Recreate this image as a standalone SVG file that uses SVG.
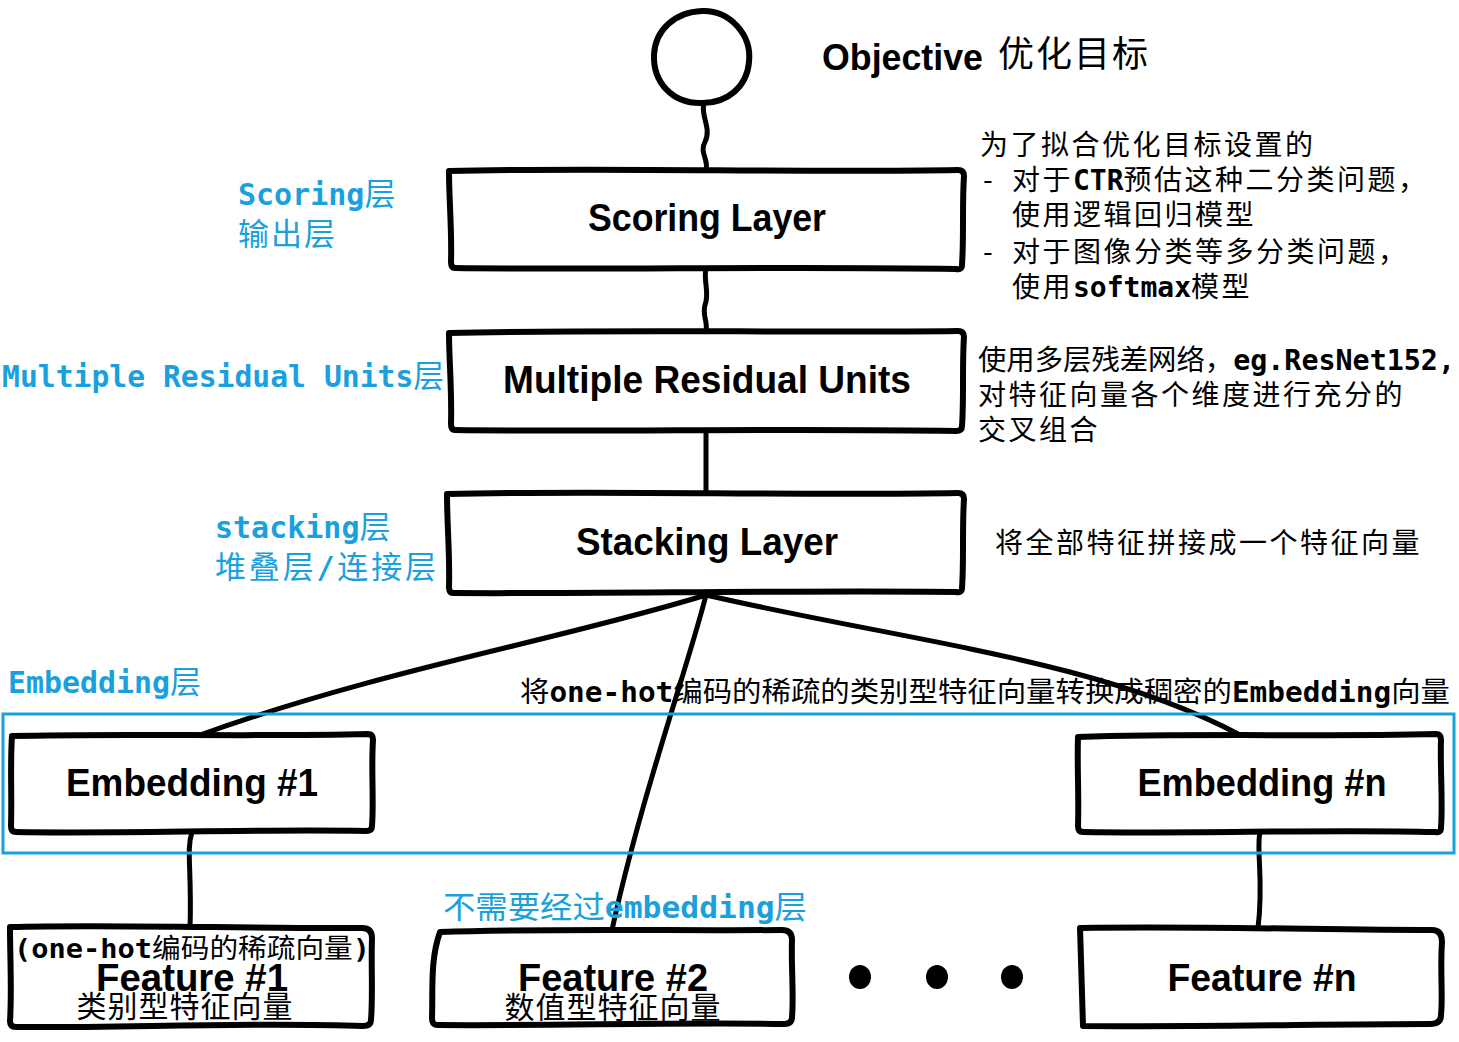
<svg xmlns="http://www.w3.org/2000/svg" width="1459" height="1042" viewBox="0 0 1459 1042">
<style>
.box{fill:#fff;stroke:#000;stroke-width:6;stroke-linejoin:round;stroke-linecap:round}
.edge{fill:none;stroke:#000;stroke-width:5;stroke-linecap:round}
.lbl{font-family:"Liberation Sans",Arial,sans-serif;font-weight:bold;fill:#000;text-anchor:middle}
.blue{font-family:"DejaVu Sans Mono","Noto Sans CJK SC",monospace;font-weight:bold;fill:#1aa0dc;font-size:30px}
.bluecjk{font-family:"Noto Sans CJK SC",sans-serif;font-weight:normal;fill:#1aa0dc;font-size:31px}
.desc{font-family:"Noto Sans CJK SC",sans-serif;fill:#000;font-size:28px}
.mono{font-family:"DejaVu Sans Mono",monospace;font-weight:bold}
</style>
<rect width="1459" height="1042" fill="#fff"/>
<g id="connectors">
<path class="edge" d="M704,103 C700,115 712,128 705,142 C699,152 709,160 706,170"/>
<path class="edge" d="M706,268 C703,282 710,292 705,305 C702,315 708,322 706,330"/>
<path class="edge" d="M706,430 L706,493"/>
<path class="edge" d="M706,595 C560,640 380,670 200,735"/>
<path class="edge" d="M706,595 C690,660 640,800 612,930"/>
<path class="edge" d="M706,595 C900,640 1100,660 1240,735"/>
<path class="edge" d="M192,832 C186,850 192,870 190,928"/>
<path class="edge" d="M1260,832 C1256,850 1264,880 1258,928"/>
</g>
<g id="objective">
<path d="M702,11 C730,10 752,35 749,62 C747,86 728,104 700,103 C672,103 653,82 654,55 C655,30 675,12 702,11 Z" fill="#fff" stroke="#000" stroke-width="6"/>
<text x="822" y="70" font-family="Liberation Sans,Arial,sans-serif" font-weight="bold" font-size="36" textLength="161" lengthAdjust="spacingAndGlyphs">Objective</text>
<text x="998" y="67" font-family="Noto Sans CJK SC,sans-serif" font-size="36" letter-spacing="2">优化目标</text>
</g>
<g id="scoring">
<path class="box" d="M449,171 C600,167 800,173 958,170 Q964,170 964,176 C962,205 964,235 962,265 Q962,270 956,269 C800,266 600,270 455,268 Q451,268 451,262 C452,230 449,200 449,171 Z"/>
<text class="lbl" x="707" y="231" font-size="38" textLength="238" lengthAdjust="spacingAndGlyphs">Scoring Layer</text>
<text class="blue" x="238" y="205">Scoring<tspan class="bluecjk" font-size="32">层</tspan></text>
<text class="bluecjk" x="238" y="245" letter-spacing="2">输出层</text>
<text class="desc" x="980" y="155" letter-spacing="2.5">为了拟合优化目标设置的</text>
<text class="desc" x="983" y="190" letter-spacing="2.5">-<tspan x="1012">对于</tspan><tspan class="mono" letter-spacing="0">CTR</tspan>预估这种二分类问题，</text>
<text class="desc" x="1012" y="225" letter-spacing="2.5">使用逻辑回归模型</text>
<text class="desc" x="983" y="262" letter-spacing="2.5">-<tspan x="1012">对于图像分类等多分类问题，</tspan></text>
<text class="desc" x="1012" y="297" letter-spacing="2.5">使用<tspan class="mono" letter-spacing="0">softmax</tspan>模型</text>
</g>
<g id="mru">
<path class="box" d="M449,333 C600,329 800,333 958,331 Q964,331 964,337 C962,365 964,400 962,426 Q962,431 956,431 C800,428 600,432 455,430 Q451,430 451,424 C452,390 449,360 449,333 Z"/>
<text class="lbl" x="707" y="393" font-size="38" textLength="408" lengthAdjust="spacingAndGlyphs">Multiple Residual Units</text>
<text class="blue" x="2" y="387" textLength="442" lengthAdjust="spacingAndGlyphs">Multiple Residual Units<tspan class="bluecjk" font-size="32">层</tspan></text>
<text class="desc" x="978" y="370" textLength="477" lengthAdjust="spacingAndGlyphs">使用多层残差网络，<tspan class="mono">eg.ResNet152,</tspan></text>
<text class="desc" x="978" y="405" letter-spacing="2.5">对特征向量各个维度进行充分的</text>
<text class="desc" x="978" y="440" letter-spacing="2.5">交叉组合</text>
</g>
<g id="stacking">
<path class="box" d="M447,494 C600,490 800,496 958,493 Q964,493 964,499 C962,530 964,560 962,588 Q962,593 956,592 C800,590 600,594 453,593 Q449,593 449,587 C450,555 447,525 447,494 Z"/>
<text class="lbl" x="707" y="555" font-size="38" textLength="262" lengthAdjust="spacingAndGlyphs">Stacking Layer</text>
<text class="blue" x="215" y="538">stacking<tspan class="bluecjk" font-size="32">层</tspan></text>
<text class="bluecjk" x="215" y="578" textLength="221" lengthAdjust="spacing">堆叠层<tspan class="blue">/</tspan>连接层</text>
<text class="desc" x="995" y="553" letter-spacing="2.5">将全部特征拼接成一个特征向量</text>
</g>
<g id="embedding-layer">
<rect x="3" y="714" width="1451" height="139" fill="none" stroke="#1aa0dc" stroke-width="3"/>
<text class="blue" x="8" y="693" textLength="162" lengthAdjust="spacingAndGlyphs">Embedding</text>
<text class="bluecjk" x="170" y="693">层</text>
<text class="desc" x="520" y="702" textLength="930" lengthAdjust="spacingAndGlyphs">将<tspan class="mono">one-hot</tspan>编码的稀疏的类别型特征向量转换成稠密的<tspan class="mono">Embedding</tspan>向量</text>
</g>
<g id="embedding1">
<path class="box" d="M12,736 C120,733 250,737 368,734 Q373,734 373,740 C371,770 374,800 372,826 Q372,831 366,831 C250,829 120,834 16,832 Q11,832 11,826 C12,795 10,765 12,736 Z"/>
<text class="lbl" x="192" y="796" font-size="38" textLength="252" lengthAdjust="spacingAndGlyphs">Embedding #1</text>
</g>
<g id="embeddingn">
<path class="box" d="M1078,737 C1200,733 1320,737 1436,734 Q1441,734 1441,740 C1440,770 1443,800 1441,828 Q1441,833 1435,832 C1320,829 1200,834 1083,832 Q1078,832 1078,826 C1079,795 1077,765 1078,737 Z"/>
<text class="lbl" x="1262" y="796" font-size="38" textLength="249" lengthAdjust="spacingAndGlyphs">Embedding #n</text>
</g>
<g id="feature1">
<path class="box" d="M10,927 C120,924 250,929 362,928 Q372,928 372,938 C371,965 373,995 371,1020 Q371,1026 363,1026 C250,1022 120,1028 16,1027 Q10,1027 10,1021 C12,990 10,960 10,927 Z"/>
<text x="14" y="958" font-family="DejaVu Sans Mono,Noto Sans CJK SC,monospace" font-weight="bold" font-size="27" textLength="356" lengthAdjust="spacingAndGlyphs">(one-hot<tspan font-family="Noto Sans CJK SC,sans-serif" font-weight="normal">编码的稀疏向量</tspan>)</text>
<text class="lbl" x="192" y="991" font-size="38" textLength="192" lengthAdjust="spacingAndGlyphs">Feature #1</text>
<text x="185" y="1017" font-family="Noto Sans CJK SC,sans-serif" font-size="30" text-anchor="middle" letter-spacing="1">类别型特征向量</text>
</g>
<g id="feature2">
<path class="box" d="M440,932 C550,928 680,931 782,930 Q792,930 792,940 C791,965 794,995 792,1017 Q792,1024 784,1024 C680,1022 550,1026 437,1025 Q432,1025 432,1018 C433,990 430,960 440,932 Z"/>
<text class="lbl" x="613" y="991" font-size="38" textLength="190" lengthAdjust="spacingAndGlyphs">Feature #2</text>
<text x="613" y="1018" font-family="Noto Sans CJK SC,sans-serif" font-size="30" text-anchor="middle" letter-spacing="1">数值型特征向量</text>
<text class="bluecjk" x="443" y="918" font-size="32" textLength="364" lengthAdjust="spacingAndGlyphs">不需要经过<tspan class="blue" font-size="31">embedding</tspan>层</text>
</g>
<g id="dots">
<ellipse cx="860" cy="977" rx="11" ry="12"/>
<ellipse cx="937" cy="977" rx="11" ry="12"/>
<ellipse cx="1012" cy="977" rx="11" ry="12"/>
</g>
<g id="featuren">
<path class="box" d="M1080,928 C1200,926 1330,930 1432,930 Q1442,930 1442,942 C1440,970 1443,995 1441,1015 Q1441,1024 1430,1024 C1330,1024 1200,1027 1083,1026 C1082,990 1081,960 1080,928 Z"/>
<text class="lbl" x="1262" y="991" font-size="38" textLength="189" lengthAdjust="spacingAndGlyphs">Feature #n</text>
</g>
</svg>
